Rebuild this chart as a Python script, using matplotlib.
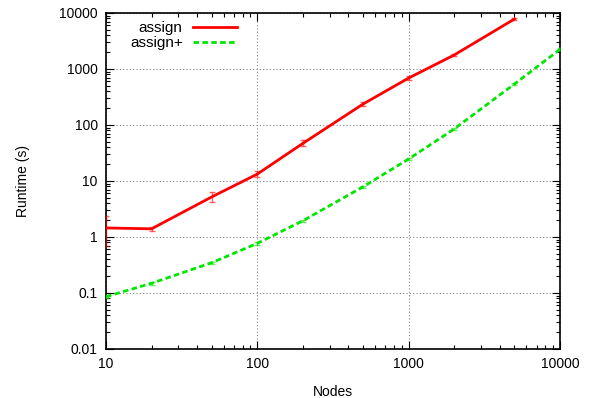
import matplotlib
matplotlib.use("Agg")
import matplotlib.pyplot as plt
from matplotlib.ticker import LogLocator, FuncFormatter, NullFormatter

plt.rcParams['font.family'] = ['Liberation Sans', 'DejaVu Sans']

nodes_assign = [10, 20, 50, 100, 200, 500, 1000, 2000, 5000]
rt_assign = [1.45, 1.40, 5.2, 13.3, 47, 237, 690, 1780, 7800]
rt_assign_lo = [0.69, 1.30, 4.2, 12.0, 42, 215, 640, 1700, 7500]
rt_assign_hi = [2.35, 1.52, 6.4, 15.0, 53, 260, 740, 1850, 8100]

nodes_plus = [10, 20, 50, 100, 200, 500, 1000, 2000, 5000, 10000]
rt_plus = [0.086, 0.149, 0.348, 0.77, 1.95, 7.9, 24.7, 85, 540, 2240]
rt_plus_lo = [0.080, 0.140, 0.330, 0.72, 1.85, 7.5, 23.5, 81, 515, 2150]
rt_plus_hi = [0.093, 0.158, 0.365, 0.82, 2.05, 8.3, 26.0, 89, 565, 2330]

xticks = [10, 100, 1000, 10000]
yticks = [0.01, 0.1, 1, 10, 100, 1000, 10000]

fig = plt.figure(figsize=(5.99, 3.98), dpi=100)
ax = fig.add_axes([106/599, 1-349/398, (560-106)/599, (349-13)/398])

red = '#ff0000'
green = '#00e600'

ax.errorbar(nodes_assign, rt_assign,
            yerr=[[m - l for m, l in zip(rt_assign, rt_assign_lo)],
                  [h - m for m, h in zip(rt_assign, rt_assign_hi)]],
            fmt='none', ecolor=red, elinewidth=1, capsize=2.5, alpha=0.6, zorder=3)
ax.errorbar(nodes_plus, rt_plus,
            yerr=[[m - l for m, l in zip(rt_plus, rt_plus_lo)],
                  [h - m for m, h in zip(rt_plus, rt_plus_hi)]],
            fmt='none', ecolor=green, elinewidth=1, capsize=2.5, alpha=0.6, zorder=3)
ax.plot(nodes_assign, rt_assign, color=red, lw=2, label='assign', zorder=4)
ax.plot(nodes_plus, rt_plus, color=green, lw=2, ls=(0, (2, 1.2)), label='assign+', zorder=4)

ax.set_xscale('log')
ax.set_yscale('log')
ax.set_xlim(10, 10000)
ax.set_ylim(0.01, 10000)
ax.set_xticks(xticks)
ax.set_yticks(yticks)
fmt = FuncFormatter(lambda v, p: '%g' % v)
ax.xaxis.set_major_formatter(fmt)
ax.yaxis.set_major_formatter(fmt)
ax.xaxis.set_minor_locator(LogLocator(base=10, subs=range(2, 10)))
ax.yaxis.set_minor_locator(LogLocator(base=10, subs=range(2, 10)))
ax.xaxis.set_minor_formatter(NullFormatter())
ax.yaxis.set_minor_formatter(NullFormatter())
ax.tick_params(which='both', direction='in', top=True, right=True, labelsize=10, width=0.8)
ax.tick_params(which='major', length=6, pad=6)
ax.tick_params(which='minor', length=3)
for s in ax.spines.values():
    s.set_linewidth(1.2)
ax.grid(True, which='major', color='#888888', ls=(0, (1, 2)), lw=0.8)

ax.set_xlabel('Nodes', fontsize=10, labelpad=10)
ax.set_ylabel('Runtime (s)', fontsize=10, labelpad=21)

ax.legend(loc='upper right', markerfirst=False, frameon=False, fontsize=11,
          handlelength=2.9, handletextpad=0.65, labelspacing=0.05,
          borderaxespad=0, borderpad=0.4,
          bbox_to_anchor=(243/599, 1 - 15/398), bbox_transform=fig.transFigure)

fig.savefig('out.png', dpi=100)
